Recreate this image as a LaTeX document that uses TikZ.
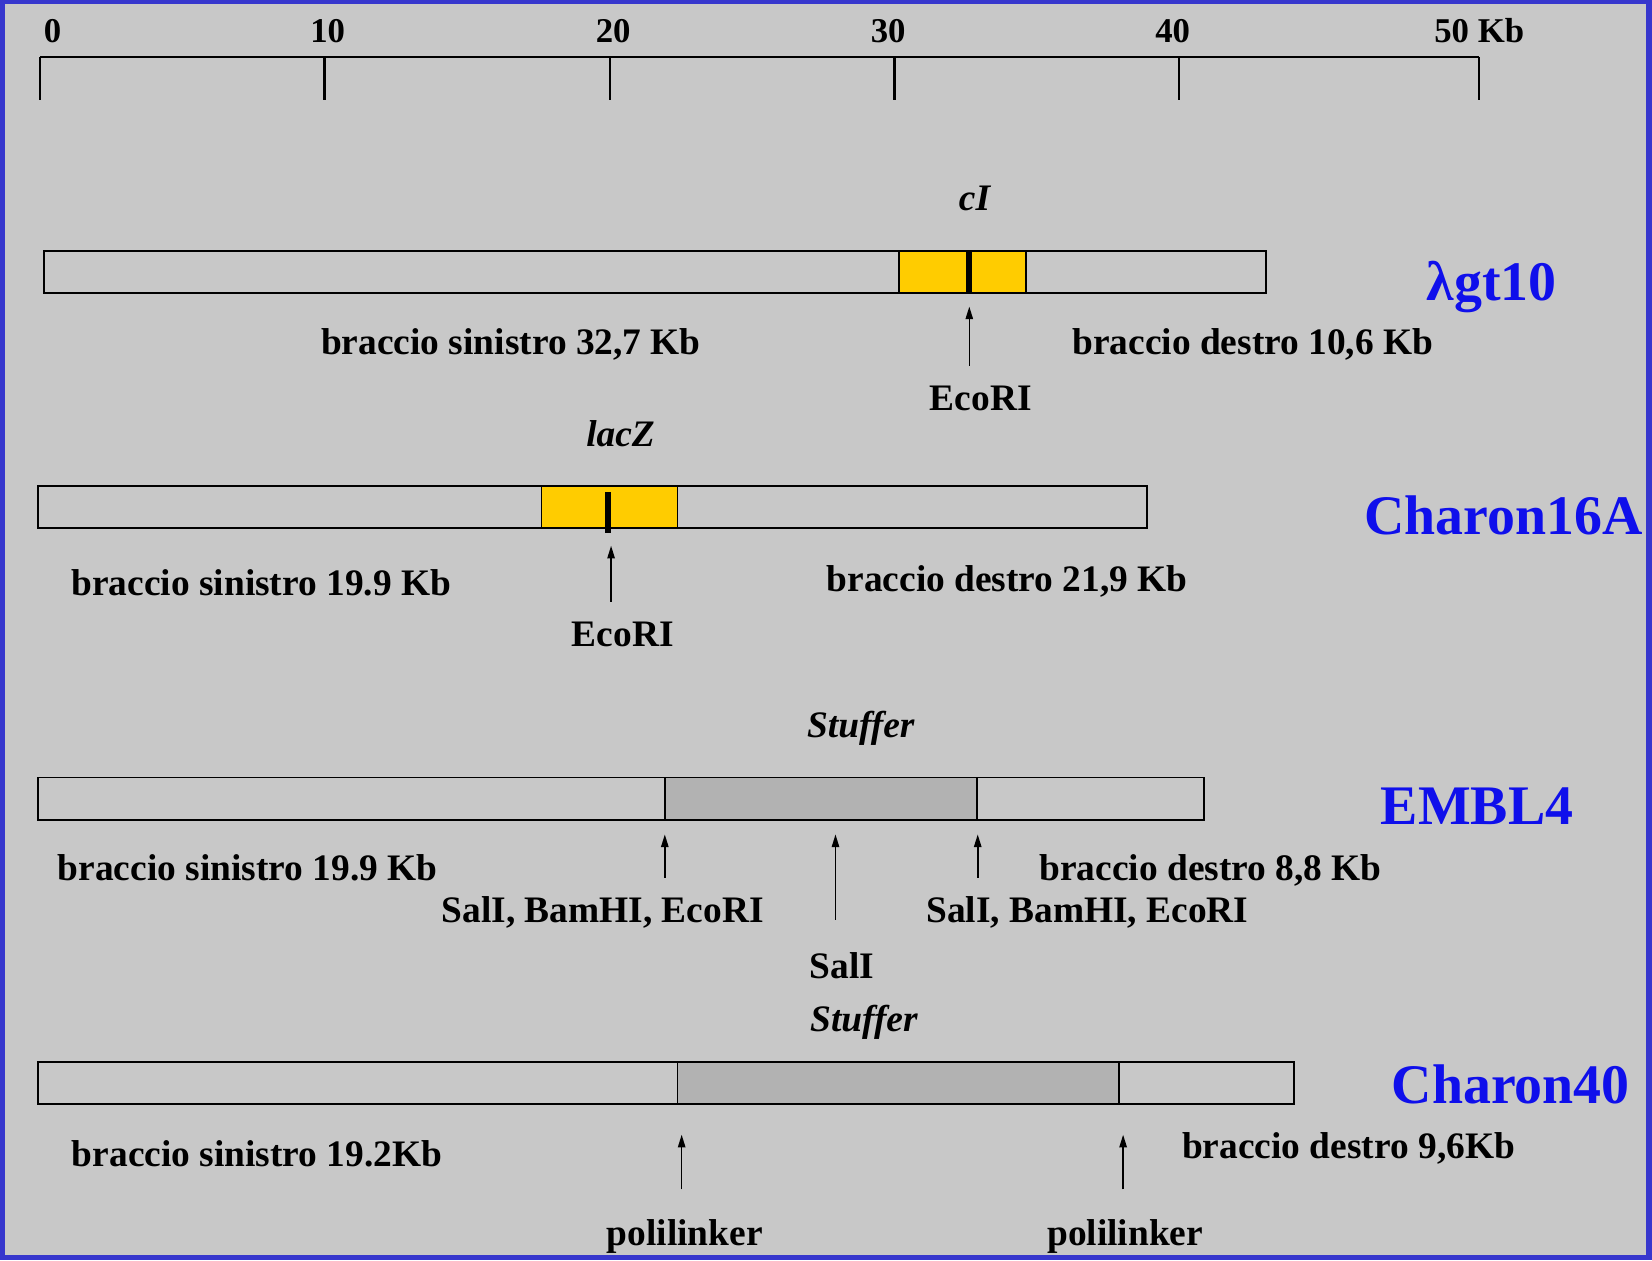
\documentclass[tikz,border=0pt]{standalone}
\usepackage{fontspec}
\setmainfont{Liberation Serif}
\usetikzlibrary{arrows.meta}
\definecolor{bggray}{RGB}{200,200,200}
\definecolor{frameblue}{RGB}{55,55,205}
\definecolor{stuffgray}{RGB}{178,178,178}
\definecolor{geneyellow}{RGB}{255,204,0}
\definecolor{titleblue}{RGB}{15,15,235}
\begin{document}
\begin{tikzpicture}[x=1pt,y=-1pt,
  lbl/.style={font=\fontsize{35.5}{40}\selectfont\bfseries, inner sep=0pt, anchor=base, text=black},
  gname/.style={font=\fontsize{35.5}{40}\selectfont\bfseries\itshape, inner sep=0pt, anchor=base, text=black},
  scalelbl/.style={font=\fontsize{33}{38}\selectfont\bfseries, inner sep=0pt, anchor=base, text=black},
  vname/.style={font=\fontsize{53}{60}\selectfont\bfseries, inner sep=0pt, anchor=base, text=titleblue},
  barbox/.style={draw=black, line width=1.8pt, fill=bggray, inner sep=0pt, outer sep=0pt, anchor=north west, minimum height=40pt},
  genebox/.style={draw=black, line width=1.8pt, fill=geneyellow, inner sep=0pt, outer sep=0pt, anchor=north west, minimum height=40pt},
  stuffbox/.style={draw=black, line width=1.8pt, fill=stuffgray, inner sep=0pt, outer sep=0pt, anchor=north west, minimum height=40pt},
  rulerline/.style={draw=black, line width=2pt},
  site/.style={draw=black, line width=1.5pt, -{Triangle[length=12pt,width=7pt]}},
  cutmark/.style={draw=black, line width=6pt}
]
\useasboundingbox (0,0) rectangle (1568,1196);
\fill[frameblue] (0,0) rectangle (1568,1196);
\fill[bggray] (5,4) rectangle (1562,1191);

% ---------- scale ----------
\coordinate (t0) at (38,54);   \coordinate (t0b) at (38,95);
\coordinate (t10) at (308,54); \coordinate (t10b) at (308,95);
\coordinate (t20) at (579,54); \coordinate (t20b) at (579,95);
\coordinate (t30) at (849,54); \coordinate (t30b) at (849,95);
\coordinate (t40) at (1119,54);\coordinate (t40b) at (1119,95);
\coordinate (t50) at (1404,54);\coordinate (t50b) at (1404,95);
\draw[rulerline] (t0) -- (t50);
\draw[rulerline] (t0) -- (t0b);
\draw[rulerline] (t10) -- (t10b);
\draw[rulerline] (t20) -- (t20b);
\draw[rulerline] (t30) -- (t30b);
\draw[rulerline] (t40) -- (t40b);
\draw[rulerline] (t50) -- (t50b);
\node[scalelbl] (s0) at (50,40) {0};
\node[scalelbl] (s10) at (311,40) {10};
\node[scalelbl] (s20) at (582,40) {20};
\node[scalelbl] (s30) at (843,40) {30};
\node[scalelbl] (s40) at (1113,40) {40};
\node[scalelbl] (s50) at (1404,40) {50 Kb};

% ---------- lambda gt10 ----------
\node[gname] (cI) at (925,200) {cI};
\node[barbox, minimum width=1160pt] (bar1) at (42,238) {};
\node[genebox, minimum width=121pt] (gene1) at (853,238) {};
\coordinate (cut1t) at (920,239);
\coordinate (cut1b) at (920,277);
\draw[cutmark] (cut1t) -- (cut1b);
\coordinate (a1s) at (920,347);
\coordinate (a1e) at (920,291);
\draw[site] (a1s) -- (a1e);
\node[lbl] (eco1) at (931,390) {EcoRI};
\node[lbl] (ls1) at (485,336) {braccio sinistro 32,7 Kb};
\node[lbl] (rd1) at (1189,336) {braccio destro 10,6 Kb};
\node[vname] (v1) at (1416,285) {λgt10};

% ---------- Charon16A ----------
\node[gname] (lacZ) at (589,424) {lacZ};
\node[barbox, minimum width=1053pt] (bar2) at (36,461) {};
\node[genebox, minimum width=129pt] (gene2) at (514,461) {};
\coordinate (cut2t) at (577,467);
\coordinate (cut2b) at (577,506);
\draw[cutmark, line width=5pt] (cut2t) -- (cut2b);
\coordinate (a2s) at (580,571);
\coordinate (a2e) at (580,518);
\draw[site] (a2s) -- (a2e);
\node[lbl] (eco2) at (591,614) {EcoRI};
\node[lbl] (ls2) at (248,565) {braccio sinistro 19.9 Kb};
\node[lbl] (rd2) at (956,561) {braccio destro 21,9 Kb};
\node[vname] (v2) at (1427,507) {Charon16A};

% ---------- EMBL4 ----------
\node[gname] (stuff3) at (817,700) {Stuffer};
\node[barbox, minimum width=1107pt] (bar3) at (36,738) {};
\node[stuffbox, minimum width=296pt] (st3) at (631,738) {};
\coordinate (a3s) at (631,833);
\coordinate (a3e) at (631,792);
\draw[site] (a3s) -- (a3e);
\coordinate (a4s) at (793,873);
\coordinate (a4e) at (793,792);
\draw[site] (a4s) -- (a4e);
\coordinate (a5s) at (928,833);
\coordinate (a5e) at (928,792);
\draw[site] (a5s) -- (a5e);
\node[lbl] (ls3) at (235,836) {braccio sinistro 19.9 Kb};
\node[lbl] (rd3) at (1149,836) {braccio destro 8,8 Kb};
\node[lbl] (sites3a) at (572,876) {SalI, BamHI, EcoRI};
\node[lbl] (sites3b) at (1032,876) {SalI, BamHI, EcoRI};
\node[lbl] (sal3) at (799,929) {SalI};
\node[vname] (v3) at (1402,783) {EMBL4};

% ---------- Charon40 ----------
\node[gname] (stuff4) at (820,979) {Stuffer};
\node[barbox, minimum width=1192pt] (bar4) at (36,1008) {};
\node[stuffbox, minimum width=419pt] (st4) at (643,1008) {};
\coordinate (a6s) at (647,1129);
\coordinate (a6e) at (647,1077);
\draw[site] (a6s) -- (a6e);
\coordinate (a7s) at (1066,1129);
\coordinate (a7e) at (1066,1077);
\draw[site] (a7s) -- (a7e);
\node[lbl] (ls4) at (244,1107) {braccio sinistro 19.2Kb};
\node[lbl] (rd4) at (1280,1100) {braccio destro 9,6Kb};
\node[lbl] (pl1) at (650,1182) {polilinker};
\node[lbl] (pl2) at (1068,1182) {polilinker};
\node[vname] (v4) at (1434,1047) {Charon40};
\end{tikzpicture}
\end{document}
